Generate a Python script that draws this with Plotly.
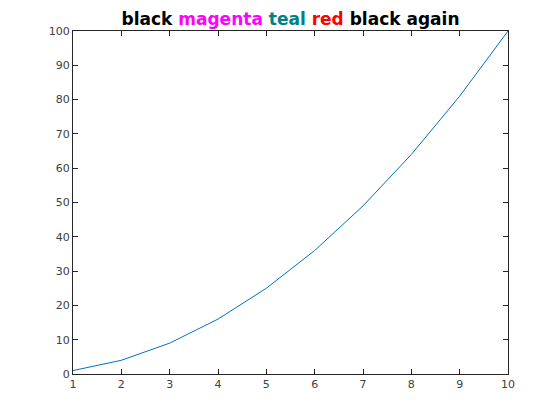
import plotly.graph_objects as go

x_vals = [1, 2, 3, 4, 5, 6, 7, 8, 9, 10]
y_vals = [1, 4, 9, 16, 25, 36, 49, 64, 81, 100]
x_ticks = [1, 2, 3, 4, 5, 6, 7, 8, 9, 10]
y_ticks = [0, 10, 20, 30, 40, 50, 60, 70, 80, 90, 100]

title_html = ("black <span style='color:#FF00FF'>magenta</span> "
              "<span style='color:#008080'>teal</span> "
              "<span style='color:#FF0000'>red</span> black again")

fig = go.Figure(go.Scatter(x=x_vals, y=y_vals, mode="lines",
                           line=dict(color="#0072BD", width=1)))

axis_common = dict(showgrid=False, zeroline=False, showline=True, linecolor="#262626",
                   linewidth=1, mirror="ticks", ticks="inside", ticklen=5,
                   tickcolor="#262626", tickfont=dict(family="DejaVu Sans", size=11, color="#404040"))

fig.update_layout(
    width=560, height=420,
    paper_bgcolor="white", plot_bgcolor="white",
    margin=dict(l=65, r=60, t=23, b=54),
    showlegend=False,
    title=dict(text="<b>" + title_html + "</b>", x=0.5, xanchor="center",
               xref="paper", y=1, yref="paper", yanchor="bottom", pad=dict(b=6),
               font=dict(family="DejaVu Sans", size=17, color="black")),
    xaxis=dict(range=[1, 10], tickvals=x_ticks, **axis_common),
    yaxis=dict(range=[0, 100], tickvals=y_ticks, **axis_common),
)

fig.write_html("out.html")
